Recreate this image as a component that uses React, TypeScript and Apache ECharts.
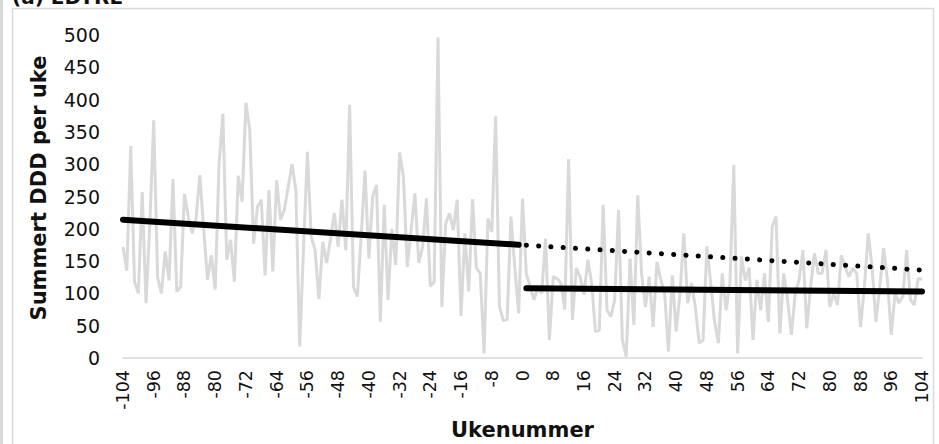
import React, { useEffect, useRef } from "react";
import * as echarts from "echarts";

// Week numbers relative to the intervention (-104 .. 104)
const weeks: number[] = Array.from({ length: 209 }, (_, i) => i - 104);

// Summed DDD per week
const summedDDD: number[] = [
  172, 135, 328, 118, 100, 257, 85, 210, 368, 125, // -104..-95
  100, 165, 120, 277, 103, 110, 254, 219, 193, 215, // -94..-85
  283, 200, 121, 159, 106, 300, 378, 152, 183, 118, // -84..-75
  282, 242, 395, 353, 177, 234, 245, 128, 260, 134, // -74..-65
  275, 214, 229, 265, 300, 260, 18, 170, 319, 188, // -64..-55
  167, 91, 180, 147, 183, 225, 172, 245, 167, 392, // -54..-45
  110, 95, 188, 290, 154, 250, 268, 56, 237, 90, // -44..-35
  200, 144, 318, 281, 141, 198, 255, 147, 172, 247, // -34..-25
  111, 118, 496, 79, 208, 224, 198, 245, 65, 193, // -24..-15
  103, 246, 139, 131, 7, 216, 195, 374, 80, 58, // -14..-5
  60, 219, 140, 69, 247, 130, 110, 90, 110, 100, // -4..5
  185, 28, 126, 123, 116, 75, 308, 59, 139, 126, // 6..15
  98, 152, 116, 41, 43, 237, 74, 64, 90, 229, // 16..25
  28, 2, 154, 51, 252, 131, 79, 126, 48, 149, // 26..35
  121, 100, 10, 128, 41, 100, 193, 85, 116, 79, // 36..45
  23, 28, 173, 116, 56, 23, 131, 74, 116, 299, // 46..55
  7, 157, 120, 140, 28, 121, 74, 131, 56, 203, // 56..65
  219, 38, 131, 90, 36, 100, 121, 167, 46, 110, // 66..75
  162, 131, 131, 167, 79, 100, 82, 159, 141, 126, // 76..85
  139, 131, 48, 110, 193, 141, 56, 110, 170, 121, // 86..95
  36, 100, 85, 95, 167, 90, 82, 123, 122, // 96..104
];

// Linear trend before the intervention (solid)
const trendBeforeWeeks: number[] = [-104, -1];
const trendBeforeValues: number[] = [214, 175.4];

// Projection of the pre-intervention trend (dotted)
const trendProjWeeks: number[] = [1, 104];
const trendProjValues: number[] = [174.6, 136.1];

// Linear trend after the intervention (solid)
const trendAfterWeeks: number[] = [1, 104];
const trendAfterValues: number[] = [108, 103];

const yTicks = { min: 0, max: 500, interval: 50 };
const xTicks = { min: -104, max: 104, interval: 8 };

const FONT = "DejaVu Sans";

export default function App() {
  const ref = useRef<HTMLDivElement>(null);

  useEffect(() => {
    if (!ref.current) return;
    const chart = echarts.init(ref.current, undefined, { renderer: "svg" });

    const pairs = (xs: number[], ys: number[]) => xs.map((x, i) => [x, ys[i]]);

    chart.setOption({
      animation: false,
      backgroundColor: "#ffffff",
      grid: { left: 123, right: 17, top: 35, bottom: 86, containLabel: false, outerBoundsMode: "none" },
      xAxis: {
        type: "value",
        min: xTicks.min,
        max: xTicks.max,
        interval: xTicks.interval,
        name: "Ukenummer",
        nameLocation: "middle",
        nameGap: 61,
        nameTextStyle: { fontFamily: FONT, fontWeight: "bold", fontSize: 21, color: "#111" },
        axisLine: { show: true, lineStyle: { color: "#d9d9d9", width: 1.5 } },
        axisTick: { show: false },
        splitLine: { show: false },
        axisLabel: { rotate: 90, fontFamily: FONT, fontSize: 17.5, color: "#111", margin: 12 },
      },
      yAxis: {
        type: "value",
        min: yTicks.min,
        max: yTicks.max,
        interval: yTicks.interval,
        axisLine: { show: false },
        axisTick: { show: false },
        splitLine: { show: false },
        axisLabel: { fontFamily: FONT, fontSize: 19, color: "#111", margin: 23 },
      },
      graphic: [
        { type: "line", shape: { x1: 1.5, y1: 0, x2: 1.5, y2: 444 }, style: { stroke: "#d9d9d9", lineWidth: 3 } },
        { type: "rect", shape: { x: 12.5, y: 8.5, width: 921, height: 470 }, style: { fill: "none", stroke: "#d9d9d9", lineWidth: 1.5 } },
        {
          type: "text",
          x: 12,
          y: 7,
          style: { text: "(a) EDYRL", fontFamily: FONT, fontWeight: "bold", fontSize: 20, fill: "#111", verticalAlign: "bottom" },
        },
        {
          type: "text",
          x: 39,
          y: 188,
          rotation: Math.PI / 2,
          style: {
            text: "Summert DDD per uke",
            fontFamily: FONT,
            fontWeight: "bold",
            fontSize: 21,
            fill: "#111",
            align: "center",
            verticalAlign: "middle",
          },
        },
      ],
      series: [
        {
          type: "line",
          data: pairs(weeks, summedDDD),
          showSymbol: false,
          symbol: "none",
          lineStyle: { color: "#d9d9d9", width: 3 },
          z: 1,
        },
        {
          type: "line",
          data: pairs(trendBeforeWeeks, trendBeforeValues),
          symbol: "none",
          lineStyle: { color: "#000", width: 6, cap: "round" },
          z: 3,
        },
        {
          type: "line",
          data: pairs(trendProjWeeks, trendProjValues),
          symbol: "none",
          lineStyle: { color: "#000", width: 5, type: [0.1, 12.2], cap: "round" },
          z: 3,
        },
        {
          type: "line",
          data: pairs(trendAfterWeeks, trendAfterValues),
          symbol: "none",
          lineStyle: { color: "#000", width: 6, cap: "round" },
          z: 3,
        },
      ],
    });

    return () => chart.dispose();
  }, []);

  return (
    <div
      ref={ref}
      style={{ position: "fixed", left: 0, top: 0, width: 939, height: 444, background: "#fff" }}
    />
  );
}
